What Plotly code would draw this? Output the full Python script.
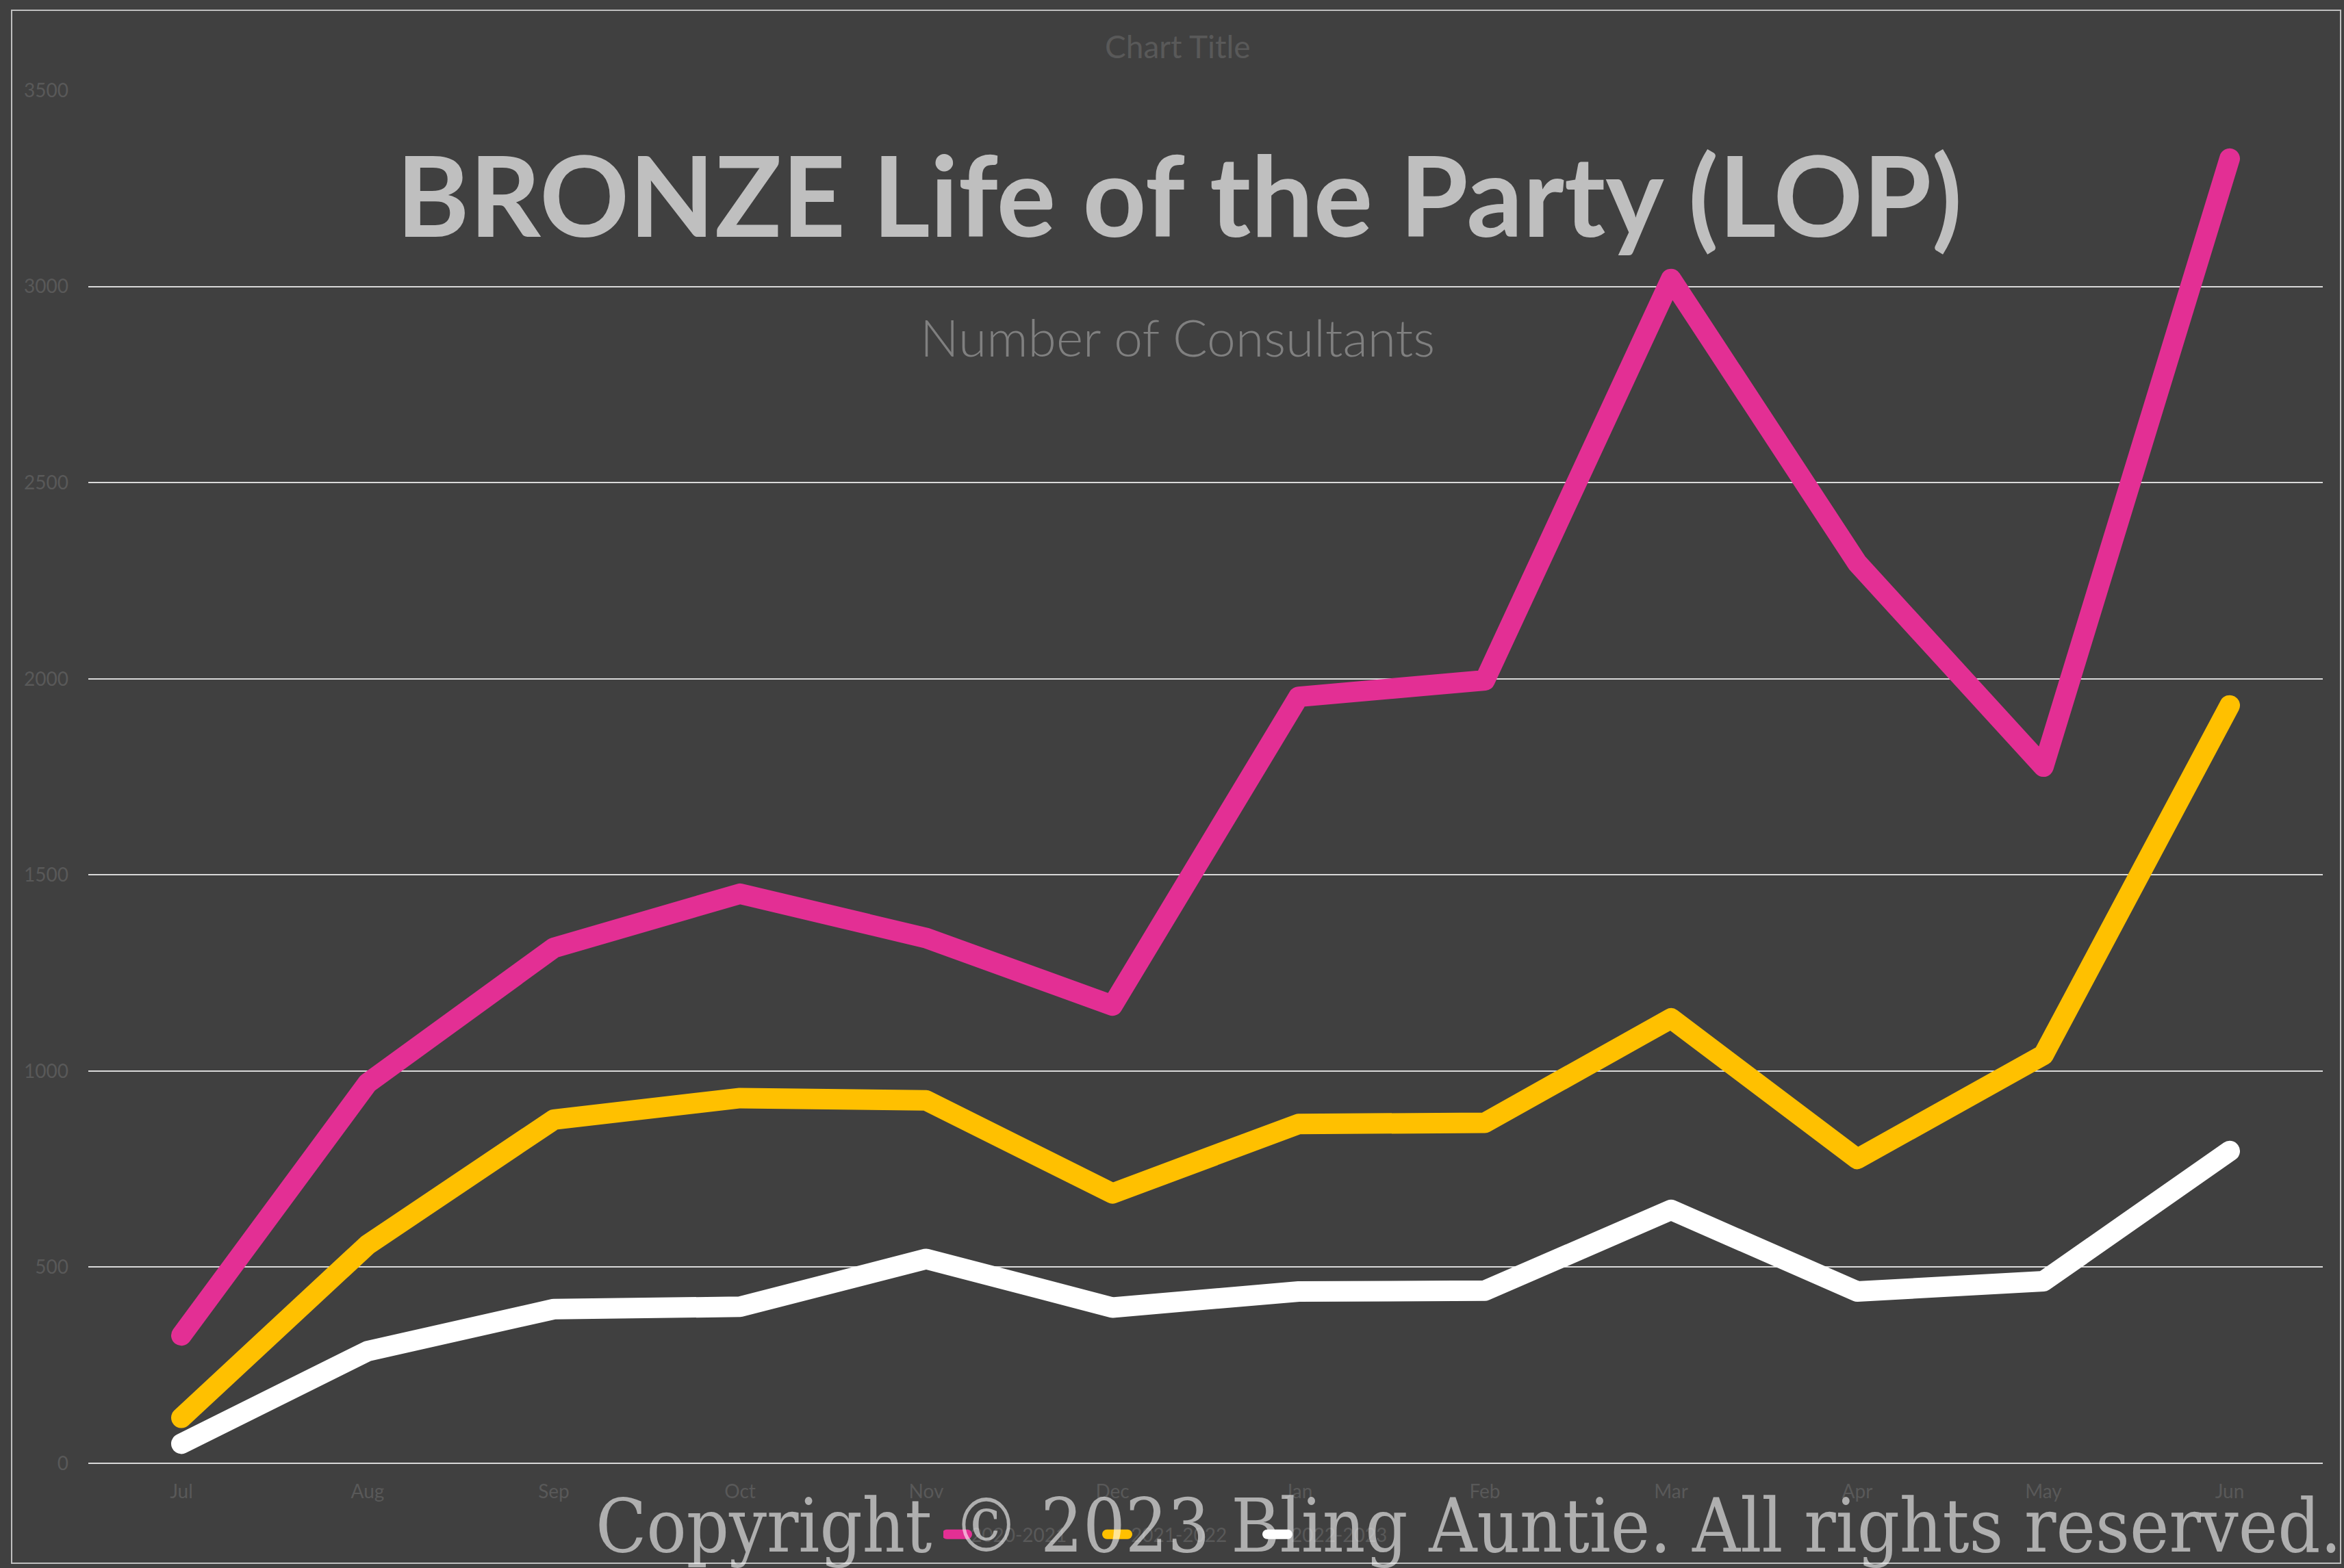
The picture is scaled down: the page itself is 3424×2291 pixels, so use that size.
import plotly.graph_objects as go

months = ["Jul", "Aug", "Sep", "Oct", "Nov", "Dec", "Jan", "Feb", "Mar", "Apr", "May", "Jun"]
series_names = ["2020-2021", "2021-2022", "2022-2023"]
s2020_2021 = [326, 969, 1314, 1452, 1339, 1167, 1954, 1996, 3019, 2295, 1776, 3326]
s2021_2022 = [116, 557, 876, 931, 925, 688, 865, 868, 1134, 776, 1041, 1932]
s2022_2023 = [50, 286, 393, 399, 521, 397, 438, 440, 646, 438, 464, 796]
y_ticks = [0, 500, 1000, 1500, 2000, 2500, 3000, 3500]

colors = ["#E32F94", "#FFC000", "#FFFFFF"]
W, H = 3424, 2291
L, R, T, B = 129, 3393, 132, 2138

def px(x):
    return (x - L) / (R - L)

def py(y):
    return (B - y) / (B - T)

fig = go.Figure()
for name, vals, c in zip(series_names, [s2020_2021, s2021_2022, s2022_2023], colors):
    fig.add_trace(go.Scatter(x=months, y=vals, name=name, mode="lines",
                             line=dict(color=c, width=30)))

grid = "#d9d9d9"
tickfont = dict(family="Lato", size=28, color="#595959")
fig.update_layout(
    width=W, height=H,
    paper_bgcolor="#404040", plot_bgcolor="#404040",
    margin=dict(l=L, r=W - R, t=T, b=H - B, pad=0),
    showlegend=True,
    legend=dict(orientation="h", x=px(1378), xanchor="left", y=py(2242), yanchor="middle",
                font=dict(family="Lato", size=28, color="#595959"), bgcolor="rgba(0,0,0,0)",
                entrywidth=189, entrywidthmode="pixels", tracegroupgap=0),
    xaxis=dict(type="category", range=[-0.5, 11.5], showgrid=False, zeroline=False,
               showline=False, ticks="", tickfont=tickfont, ticklabelstandoff=22),
    yaxis=dict(range=[0, 3500], tickvals=y_ticks, showgrid=True, gridcolor=grid, gridwidth=2,
               zeroline=True, zerolinecolor=grid, zerolinewidth=2, showline=False, ticks="",
               tickfont=tickfont, ticklabelstandoff=28),
    font=dict(family="Lato"),
)

fig.add_shape(type="rect", xref="paper", yref="paper", x0=px(17), x1=px(3419), y0=py(2284), y1=py(15),
              line=dict(color="#bfbfbf", width=2), fillcolor="rgba(0,0,0,0)", layer="below")

fig.add_annotation(text="Chart Title", xref="paper", yref="paper", x=px(1720), y=py(67),
                   xanchor="center", yanchor="middle", showarrow=False,
                   font=dict(family="Lato", size=46, color="#595959"))
fig.add_annotation(text="BRONZE Life of the Party (LOP)", xref="paper", yref="paper",
                   x=px(1722), y=py(283), xanchor="center", yanchor="middle", showarrow=False,
                   font=dict(family="Lato", size=162, color="#bfbfbf", weight=700))
fig.add_annotation(text="Number of Consultants", xref="paper", yref="paper",
                   x=px(1720), y=py(492), xanchor="center", yanchor="middle", showarrow=False,
                   font=dict(family="Lato", size=75, color="#808080", weight=300))
fig.add_annotation(text="Copyright © 2023 Bling Auntie. All rights reserved.", xref="paper", yref="paper",
                   x=px(3422), y=py(2229), xanchor="right", yanchor="middle", showarrow=False,
                   font=dict(family="DejaVu Serif Condensed", size=108, color="rgba(255,255,255,0.58)"))

post = (
    "document.body.style.margin='0';document.body.style.overflow='hidden';"
    "document.querySelectorAll('.scatterlayer .js-line').forEach(function(p){"
    "p.style.strokeLinecap='round';p.style.strokeLinejoin='round';});"
    "document.querySelectorAll('.legend .js-line').forEach(function(p){"
    "p.style.strokeLinecap='round';p.style.strokeWidth='14px';});"
)
fig.write_html("out.html", config={"displayModeBar": False}, post_script=post)
